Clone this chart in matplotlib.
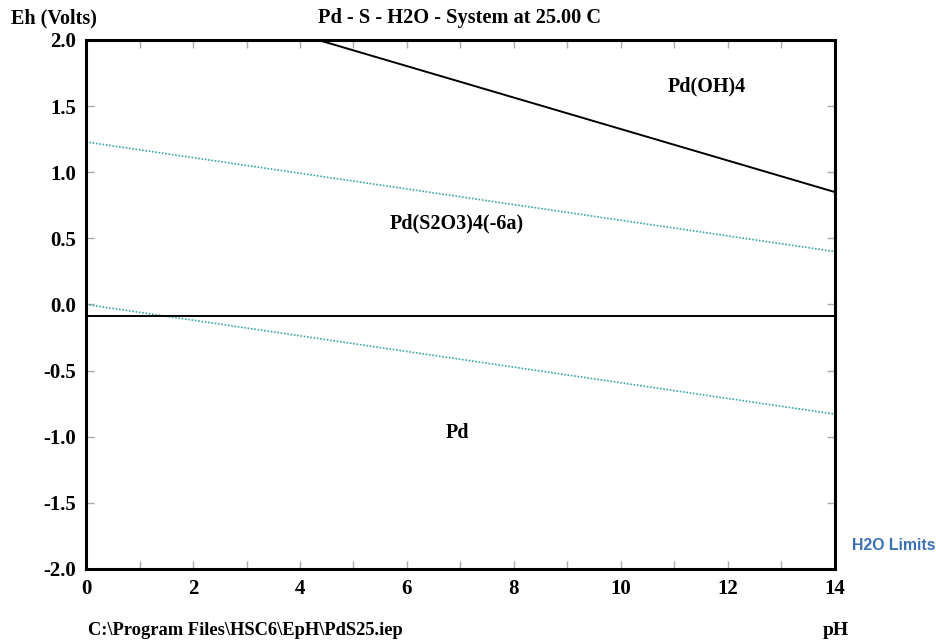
import matplotlib
matplotlib.use("Agg")
import matplotlib.pyplot as plt

# pH range and line end points
ph_ends = [0, 14]
h2o_upper = [1.229, 0.400]       # O2 / H2O limit
h2o_lower = [0.000, -0.829]      # H2 / H2O limit
oh4_ph = [4.34, 14]
oh4_eh = [2.0, 0.85]             # Pd(S2O3)4(-6a) / Pd(OH)4 boundary
pd_ph = [0, 14]
pd_eh = [-0.09, -0.09]           # Pd / Pd(S2O3)4(-6a) boundary

region_names = ["Pd(OH)4", "Pd(S2O3)4(-6a)", "Pd"]
region_x = [11.6, 6.93, 6.95]
region_y = [1.645, 0.616, -0.97]

xticks = [0, 2, 4, 6, 8, 10, 12, 14]
yticks = [-2.0, -1.5, -1.0, -0.5, 0.0, 0.5, 1.0, 1.5, 2.0]

plt.rcParams['font.family'] = ['Liberation Serif', 'DejaVu Serif']
plt.rcParams['font.weight'] = 'bold'

fig = plt.figure(figsize=(9.37, 6.43), dpi=100)
ax = fig.add_axes([0.0918, 0.1151, 0.7993, 0.8227])

teal = '#3aa6a6'
ax.plot(ph_ends, h2o_upper, color=teal, lw=1.2, ls=(0, (1, 1)))
ax.plot(ph_ends, h2o_lower, color=teal, lw=1.2, ls=(0, (1, 1)))
ax.plot(oh4_ph, oh4_eh, color='black', lw=1.4, solid_capstyle='butt')
ax.plot(pd_ph, pd_eh, color='black', lw=1.4, solid_capstyle='butt')

for name, x, y in zip(region_names, region_x, region_y):
    ax.text(x, y, name, ha='center', va='center', fontsize=14.5, fontweight='bold')

ax.set_xlim(0, 14)
ax.set_ylim(-2.0, 2.0)
ax.set_xticks(xticks)
ax.set_xticks(range(0, 15), minor=True)
ax.set_yticks(yticks)
ax.set_xticklabels([str(t) for t in xticks])
ax.set_yticklabels(['%.1f' % t for t in yticks])
ax.tick_params(which='both', direction='in', color='#aaaaaa', width=1,
               top=True, right=True, labelsize=15, pad=7)
ax.tick_params(which='major', length=6)
ax.tick_params(which='minor', length=6)
for lab in ax.get_xticklabels() + ax.get_yticklabels():
    lab.set_fontweight('bold')
for s in ax.spines.values():
    s.set_linewidth(2.2)

fig.text(0.012, 0.972, 'Eh (Volts)', fontsize=14.5, fontweight='bold', va='center', ha='left')
fig.text(0.49, 0.972, 'Pd - S - H2O - System at 25.00 C', fontsize=14.7,
         fontweight='bold', va='center', ha='center')
fig.text(0.094, 0.02, 'C:\\Program Files\\HSC6\\EpH\\PdS25.iep', fontsize=13.3,
         fontweight='bold', va='center', ha='left')
fig.text(0.892, 0.02, 'pH', fontsize=14, fontweight='bold', va='center', ha='center')
fig.text(0.998, 0.152, 'H2O Limits', fontsize=11.4, fontweight='bold', va='center',
         ha='right', color='#3b70b5', family=['Liberation Sans', 'DejaVu Sans'])

fig.savefig('out.png', dpi=100)
